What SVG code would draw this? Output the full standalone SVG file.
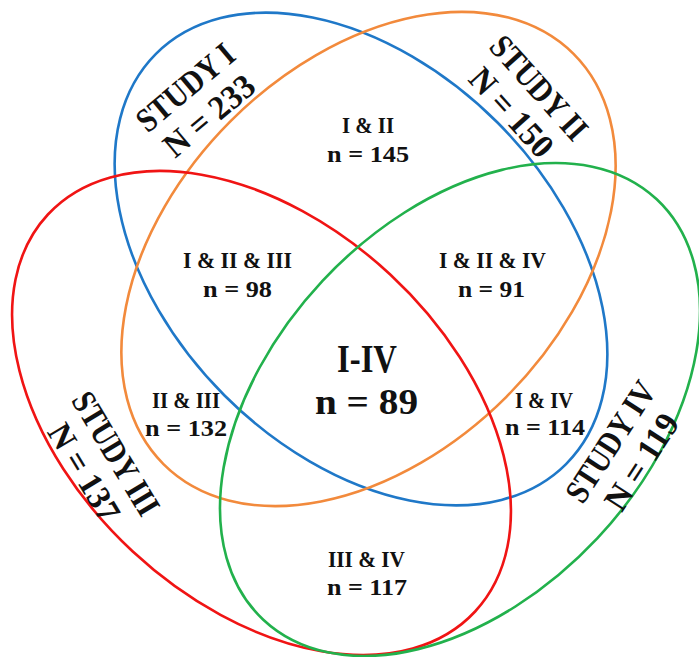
<svg xmlns="http://www.w3.org/2000/svg" width="699" height="657" viewBox="0 0 699 657">
<style>
.set{fill:none;stroke-width:2.6}
.t{font-family:"Liberation Serif","Times New Roman",serif;font-weight:bold;fill:#111;text-anchor:middle}
.s{font-size:23px}
.b{font-size:34px}
</style>
<rect width="699" height="657" fill="#fff"/>
<g id="sets">
<ellipse id="set-I" class="set" stroke="#1f78c8" cx="0" cy="0" rx="290" ry="193" transform="translate(361 259) rotate(45)"/>
<ellipse id="set-II" class="set" stroke="#f28a3c" cx="0" cy="0" rx="290" ry="195" transform="translate(368.5 259) rotate(-45)"/>
<ellipse id="set-III" class="set" stroke="#f01414" cx="0" cy="0" rx="291.6" ry="189.1" transform="translate(261.5 413) rotate(42.9)"/>
<ellipse id="set-IV" class="set" stroke="#22b14c" cx="0" cy="0" rx="287.9" ry="188.3" transform="translate(460 409.5) rotate(-46.9)"/>
</g>
<g id="label-study-I" class="t b" transform="translate(201 106) rotate(-40)">
<text x="0" y="-13" textLength="117" lengthAdjust="spacingAndGlyphs">STUDY I</text>
<text x="0" y="24" textLength="108" lengthAdjust="spacingAndGlyphs">N = 233</text>
</g>
<g id="label-study-II" class="t b" transform="translate(521 104) rotate(48)">
<text x="0" y="-13" textLength="128" lengthAdjust="spacingAndGlyphs">STUDY II</text>
<text x="0" y="24" textLength="108" lengthAdjust="spacingAndGlyphs">N = 150</text>
</g>
<g id="label-study-III" class="t b" transform="translate(95 466) rotate(59)">
<text x="0" y="-13" textLength="138" lengthAdjust="spacingAndGlyphs">STUDY III</text>
<text x="0" y="24" textLength="108" lengthAdjust="spacingAndGlyphs">N = 137</text>
</g>
<g id="label-study-IV" class="t b" transform="translate(631 455) rotate(-57)">
<text x="0" y="-13" textLength="137" lengthAdjust="spacingAndGlyphs">STUDY IV</text>
<text x="0" y="24" textLength="108" lengthAdjust="spacingAndGlyphs">N = 119</text>
</g>
<g id="region-I-II" class="t s">
<text x="368" y="133" textLength="52" lengthAdjust="spacingAndGlyphs">I &amp; II</text>
<text x="368" y="162" textLength="82" lengthAdjust="spacingAndGlyphs">n = 145</text>
</g>
<g id="region-I-II-III" class="t s">
<text x="237.5" y="268" textLength="109" lengthAdjust="spacingAndGlyphs">I &amp; II &amp; III</text>
<text x="237.5" y="297" textLength="69" lengthAdjust="spacingAndGlyphs">n = 98</text>
</g>
<g id="region-I-II-IV" class="t s">
<text x="492.5" y="268" textLength="107" lengthAdjust="spacingAndGlyphs">I &amp; II &amp; IV</text>
<text x="491.5" y="297" textLength="67" lengthAdjust="spacingAndGlyphs">n = 91</text>
</g>
<g id="region-all" class="t">
<text x="367" y="372" font-size="39" textLength="60" lengthAdjust="spacingAndGlyphs">I-IV</text>
<text x="366.5" y="414" font-size="36" textLength="103" lengthAdjust="spacingAndGlyphs">n = 89</text>
</g>
<g id="region-II-III" class="t s">
<text x="186" y="408" textLength="68" lengthAdjust="spacingAndGlyphs">II &amp; III</text>
<text x="186" y="436" textLength="82" lengthAdjust="spacingAndGlyphs">n = 132</text>
</g>
<g id="region-I-IV" class="t s">
<text x="544" y="408" textLength="58" lengthAdjust="spacingAndGlyphs">I &amp; IV</text>
<text x="545" y="435" textLength="80" lengthAdjust="spacingAndGlyphs">n = 114</text>
</g>
<g id="region-III-IV" class="t s">
<text x="366.5" y="567" textLength="77" lengthAdjust="spacingAndGlyphs">III &amp; IV</text>
<text x="367" y="595" textLength="80" lengthAdjust="spacingAndGlyphs">n = 117</text>
</g>
<g id="connectors"/>
</svg>
